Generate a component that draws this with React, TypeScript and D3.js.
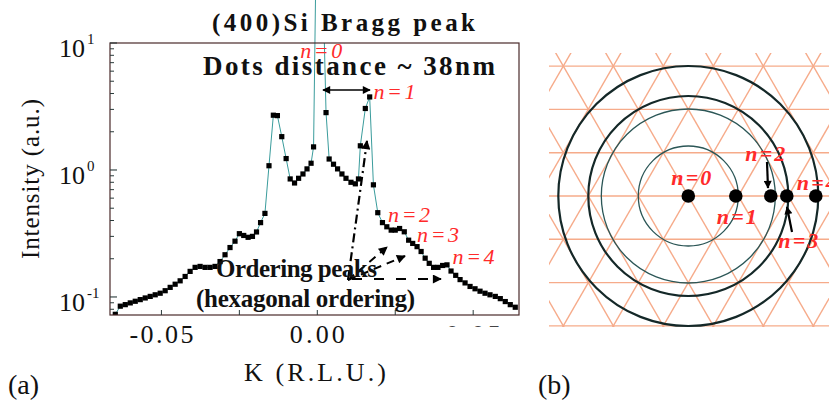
import React from 'react';
import * as d3 from 'd3';

// ---------- Panel (a) data ----------
const kValues = [
  -0.0648, -0.0632, -0.0616, -0.06, -0.0584, -0.0568, -0.0552, -0.0536, -0.052, -0.0504,
  -0.0488, -0.0472, -0.0456, -0.044, -0.0424, -0.0408, -0.0392, -0.0376, -0.036, -0.0344,
  -0.0328, -0.0312, -0.0296, -0.028, -0.0264, -0.025, -0.0236, -0.0222, -0.0208, -0.0195,
  -0.0182, -0.0168, -0.0155, -0.0141, -0.0128, -0.0114, -0.01, -0.0087, -0.0073, -0.006,
  -0.0046, -0.0033, -0.002, -0.0012, 0.0003, 0.0028, 0.0038, 0.0052, 0.0065, 0.0079,
  0.0092, 0.0108, 0.0122, 0.0132, 0.0138, 0.0154, 0.0168, 0.018, 0.0194, 0.0209,
  0.0223, 0.0237, 0.025, 0.0264, 0.0279, 0.0293, 0.0306, 0.032, 0.0333, 0.0346,
  0.0359, 0.0373, 0.0387, 0.0402, 0.0416, 0.0429, 0.0444, 0.0458, 0.0474, 0.049,
  0.0506, 0.0522, 0.0538, 0.0554, 0.0571, 0.0587, 0.0603, 0.0619, 0.0635,
];
const intensity = [
  0.073, 0.0846, 0.087, 0.0898, 0.0925, 0.0953, 0.0982, 0.101, 0.104, 0.107,
  0.112, 0.119, 0.126, 0.134, 0.145, 0.159, 0.171, 0.174, 0.171, 0.171,
  0.174, 0.19, 0.215, 0.245, 0.275, 0.315, 0.305, 0.295, 0.3, 0.325,
  0.385, 0.455, 1.08, 2.7, 2.68, 1.83, 1.23, 0.85, 0.79, 0.86,
  0.93, 1.02, 1.13, 1.52, 1000, 2.83, 1.22, 1.11, 1.02, 0.93,
  0.86, 0.8, 0.778, 0.85, 1.55, 3.05, 3.76, 0.764, 0.461, 0.385,
  0.357, 0.336, 0.336, 0.346, 0.326, 0.28, 0.264, 0.249, 0.228, 0.202,
  0.184, 0.171, 0.171, 0.177, 0.179, 0.16, 0.148, 0.137, 0.129, 0.121,
  0.116, 0.111, 0.107, 0.104, 0.101, 0.097, 0.092, 0.087, 0.083,
];
const xDomain = [-0.0665, 0.0647];
const yDomain = [0.0721, 10];
const xTicks = [-0.05, -0.025, 0, 0.025, 0.05];
const xTickLabels = ['-0.05', '0.00'];
const xTickLabelValues = [-0.05, 0];
const yMajorTicks = [0.1, 1, 10];
const yMajorExp = ['-1', '0', '1'];
const yMinorTicks = [0.08, 0.09, 0.2, 0.3, 0.4, 0.5, 0.6, 0.7, 0.8, 0.9, 2, 3, 4, 5, 6, 7, 8, 9];

// n labels in (a): [K, intensity] anchor of each label's left/baseline
const peakLabelsA = ['n=0', 'n=1', 'n=2', 'n=3', 'n=4'];
const peakLabelK = [-0.0055, 0.018, 0.0227, 0.0320, 0.0434];
const peakLabelI = [12.2, 3.62, 0.39, 0.271, 0.182];

// ---------- Panel (b) data (lattice units) ----------
const shellRadii = [1, 1.74, 2, 2.6];
const shellWeight = [1.3, 1.3, 2.2, 2.2];
const dotPositions = [0, 0.95, 1.65, 1.97, 2.55];
const dotLabels = ['n=0', 'n=1', 'n=2', 'n=3', 'n=4'];
const dotLabelDx = [-0.34, 0.57, 1.14, 1.8, 2.17];
const dotLabelDy = [-0.22, 0.55, -0.7, 1.04, -0.12];

const FONT = "Liberation Serif";
const RED = '#ff2a2a';
const tf = { fontFamily: FONT };

export default function App() {
  // Panel (a) geometry
  const L = 110, R = 519, T = 43, B = 315;
  const x = d3.scaleLinear().domain(xDomain).range([L, R]);
  const y = d3.scaleLog().domain(yDomain).range([B, T]);
  const pts = kValues.map((k, i) => [k, intensity[i]] as [number, number]);
  const line = d3.line<[number, number]>().x(d => x(d[0])).y(d => y(d[1]));

  // Panel (b) geometry
  const cx = 688.3, cy = 196;
  const u = d3.scaleLinear().domain([0, 1]).range([0, 50]);
  const rowH = u(1) * Math.sqrt(3) / 2;
  const gridPaths: string[] = [];
  for (let r = -5; r <= 5; r++) {
    const yy = cy + r * rowH;
    gridPaths.push(`M${540},${yy}L${840},${yy}`);
  }
  for (let j = -14; j <= 14; j++) {
    const x0 = cx + j * u(1);
    const span = 6;
    gridPaths.push(`M${x0 - span * u(0.5)},${cy - span * rowH}L${x0 + span * u(0.5)},${cy + span * rowH}`);
    gridPaths.push(`M${x0 + span * u(0.5)},${cy - span * rowH}L${x0 - span * u(0.5)},${cy + span * rowH}`);
  }

  return (
    <svg width={829} height={409} style={{ position: 'absolute', left: 0, top: 0, background: '#fff', fontFamily: FONT }}>
      <defs>
        <clipPath id="dataClip">
          <rect x={L} y={T} width={R - L} height={B - T} />
          <rect x={300} y={0} width={18} height={T} />
        </clipPath>
        <clipPath id="gridClip">
          <rect x={549} y={53} width={290} height={274} />
        </clipPath>
        <clipPath id="tickLabClip">
          <rect x={440} y={322} width={80} height={5} />
        </clipPath>
        <marker id="ah" viewBox="0 0 10 10" refX="9" refY="5" markerUnits="userSpaceOnUse"
          markerWidth="11" markerHeight="8" orient="auto-start-reverse">
          <path d="M0,0L10,5L0,10z" fill="#000" />
        </marker>
        <marker id="ahb" viewBox="0 0 10 10" refX="9" refY="5" markerUnits="userSpaceOnUse"
          markerWidth="12" markerHeight="9" orient="auto-start-reverse">
          <path d="M0,0L10,5L0,10z" fill="#000" />
        </marker>
      </defs>

      {/* ================= Panel (a) ================= */}
      <text style={tf} x={212} y={31} fontSize={25} fontWeight="bold" textLength={263} lengthAdjust="spacing" fill="#111">(400)Si Bragg peak</text>

      {/* data line + markers */}
      <g clipPath="url(#dataClip)">
        <path d={line(pts) || ''} fill="none" stroke="#3a9c9c" strokeWidth={1} />
        {pts.filter(d => d[1] < 100).map((d, i) => (
          <rect key={i} x={x(d[0]) - 2.6} y={y(d[1]) - 2.6} width={5.2} height={5.2} fill="#000" />
        ))}
      </g>

      {/* frame */}
      <rect x={L} y={T} width={R - L} height={B - T} fill="none" stroke="#4a2a2a" strokeWidth={1.2} />

      {/* y ticks */}
      {yMajorTicks.map((t, i) => (
        <g key={'ym' + i}>
          <line x1={L} x2={L + 7} y1={y(t)} y2={y(t)} stroke="#2a3a3a" strokeWidth={1.1} />
          <text style={tf} x={85} y={y(t) + 14} fontSize={26} textAnchor="end" fill="#111">10</text>
          <text style={tf} x={87} y={y(t) + 1} fontSize={15} fill="#111">{yMajorExp[i]}</text>
        </g>
      ))}
      {yMinorTicks.map((t, i) => (
        <line key={'yn' + i} x1={L} x2={L + 4} y1={y(t)} y2={y(t)} stroke="#2a3a3a" strokeWidth={1} />
      ))}

      {/* x ticks */}
      {xTicks.map((t, i) => (
        <line key={'xt' + i} x1={x(t)} x2={x(t)} y1={B} y2={B - 5} stroke="#2a3a3a" strokeWidth={1} />
      ))}
      {xTickLabels.map((s, i) => (
        <text style={tf} key={'xl' + i} x={x(xTickLabelValues[i])} y={343} fontSize={26} textAnchor="middle"
          textLength={i === 0 ? 64 : 55} lengthAdjust="spacing" fill="#111">{s}</text>
      ))}
      <g clipPath="url(#tickLabClip)">
        <text style={tf} x={x(0.05)} y={343} fontSize={26} textAnchor="middle" textLength={55} lengthAdjust="spacing" fill="#444">0.05</text>
      </g>

      {/* axis titles */}
      <text style={tf} x={315} y={381} fontSize={26} textAnchor="middle" textLength={142} lengthAdjust="spacing" fill="#111">K (R.L.U.)</text>
      <text style={tf} transform="translate(39,179) rotate(-90)" fontSize={25} textAnchor="middle" textLength={160} lengthAdjust="spacing" fill="#111">Intensity (a.u.)</text>
      <text style={tf} x={8} y={394} fontSize={28} fill="#111">(a)</text>

      {/* annotations */}
      <text style={tf} x={203} y={75} fontSize={27} fontWeight="bold" textLength={292} lengthAdjust="spacing" fill="#111">Dots distance ~ 38nm</text>
      <line x1={323} y1={90} x2={370} y2={90} stroke="#000" strokeWidth={1.6} markerStart="url(#ah)" markerEnd="url(#ah)" />

      <line x1={348} y1={280} x2={367} y2={141} stroke="#000" strokeWidth={2.2} strokeDasharray="9,4,2,4" markerEnd="url(#ahb)" />
      <line x1={348} y1={280} x2={387} y2={247} stroke="#000" strokeWidth={2} strokeDasharray="8,6" markerEnd="url(#ahb)" />
      <line x1={348} y1={280} x2={405} y2={256} stroke="#000" strokeWidth={2} strokeDasharray="8,6" markerEnd="url(#ahb)" />
      <line x1={352} y1={279} x2={441} y2={279} stroke="#000" strokeWidth={2} strokeDasharray="10,12" markerEnd="url(#ahb)" />

      <text style={tf} x={216} y={277} fontSize={25} fontWeight="bold" textLength={161} lengthAdjust="spacing" fill="#111">Ordering peaks</text>
      <text style={tf} x={196} y={307} fontSize={25} fontWeight="bold" textLength={219} lengthAdjust="spacing" fill="#111">(hexagonal ordering)</text>

      {peakLabelsA.map((s, i) => (
        <text style={tf} key={'pa' + i} x={x(peakLabelK[i])} y={i === 0 ? 58 : y(peakLabelI[i])} fontSize={22} fontStyle="italic"
          textLength={42} lengthAdjust="spacing" fill={RED}>{s}</text>
      ))}

      {/* ================= Panel (b) ================= */}
      <g clipPath="url(#gridClip)">
        {gridPaths.map((p, i) => (
          <path key={'g' + i} d={p} stroke="#f6ab8a" strokeWidth={1.4} fill="none" />
        ))}
      </g>
      {shellRadii.map((r, i) => (
        <circle key={'c' + i} cx={cx} cy={cy} r={u(r)} fill="none"
          stroke={i < 2 ? '#2b5656' : '#142828'} strokeWidth={shellWeight[i]} />
      ))}
      {dotPositions.map((p, i) => (
        <circle key={'d' + i} cx={cx + u(p)} cy={cy} r={6.8} fill="#000" />
      ))}
      {dotLabels.map((s, i) => (
        <text style={tf} key={'dl' + i} x={cx + u(dotLabelDx[i])} y={cy + u(dotLabelDy[i])} fontSize={22}
          fontWeight="bold" fontStyle="italic" textLength={40} lengthAdjust="spacing" fill={RED}>{s}</text>
      ))}
      <line x1={767} y1={162} x2={768} y2={188} stroke="#000" strokeWidth={2.2} markerEnd="url(#ah)" />
      <line x1={792} y1={232} x2={787} y2={207} stroke="#000" strokeWidth={2.2} markerEnd="url(#ah)" />
      <text style={tf} x={538} y={394} fontSize={28} fill="#111">(b)</text>
    </svg>
  );
}
